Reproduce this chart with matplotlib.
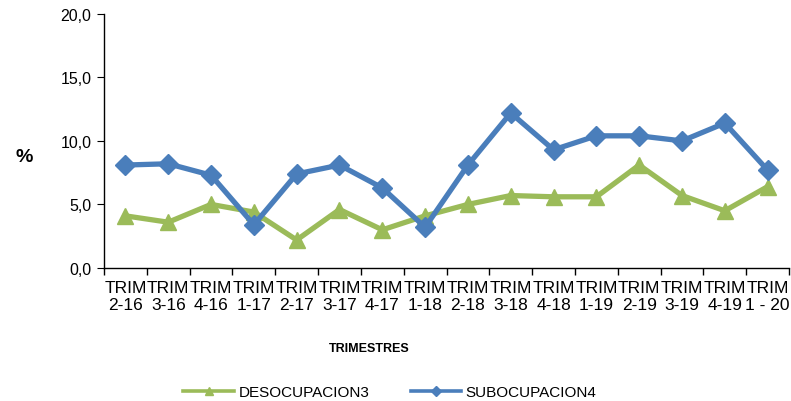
import numpy as np
import matplotlib
matplotlib.use('Agg')
import matplotlib.pyplot as plt
from matplotlib.ticker import FixedLocator, FuncFormatter

plt.rcParams['font.family'] = ['Liberation Sans', 'DejaVu Sans']

trimestres = ['TRIM\n2-16', 'TRIM\n3-16', 'TRIM\n4-16', 'TRIM\n1-17', 'TRIM\n2-17',
              'TRIM\n3-17', 'TRIM\n4-17', 'TRIM\n1-18', 'TRIM\n2-18', 'TRIM\n3-18',
              'TRIM\n4-18', 'TRIM\n1-19', 'TRIM\n2-19', 'TRIM\n3-19', 'TRIM\n4-19',
              'TRIM\n1 - 20']
desocupacion = [4.1, 3.6, 5.0, 4.4, 2.2, 4.6, 3.0, 4.1, 5.0, 5.7, 5.6, 5.6, 8.1, 5.7, 4.5, 6.4]
subocupacion = [8.1, 8.2, 7.3, 3.4, 7.4, 8.1, 6.3, 3.2, 8.1, 12.2, 9.3, 10.4, 10.4, 10.0, 11.4, 7.7]

green = '#9BBB59'
blue = '#4A7EBB'

fig = plt.figure(figsize=(7.91, 4.02), dpi=100)
ax = fig.add_axes([0.1315, 0.331, 0.866, 0.632])

x = np.arange(len(trimestres))
ax.plot(x, desocupacion, color=green, lw=3.8, marker='^', markersize=12,
        label='DESOCUPACION3')
ax.plot(x, subocupacion, color=blue, lw=3.8, marker='D', markersize=10,
        label='SUBOCUPACION4')

ax.set_xlim(-0.5, len(trimestres) - 0.5)
ax.set_ylim(0, 20)
ax.set_yticks([0, 5, 10, 15, 20])
ax.yaxis.set_major_formatter(FuncFormatter(lambda v, p: f'{v:.1f}'.replace('.', ',')))

ax.set_xticks(x)
ax.set_xticklabels(trimestres, fontsize=12.5, linespacing=1.1)
ax.tick_params(axis='x', which='major', length=0, pad=9)
ax.xaxis.set_minor_locator(FixedLocator(np.arange(-0.5, len(trimestres), 1.0)))
ax.tick_params(axis='x', which='minor', length=5, direction='out', width=1)
ax.tick_params(axis='y', length=5, direction='out', labelsize=11.5, pad=4)

for s in ['top', 'right']:
    ax.spines[s].set_visible(False)
for s in ['left', 'bottom']:
    ax.spines[s].set_linewidth(1)

fig.text(0.031, 0.607, '%', fontsize=14, fontweight='bold', ha='center', va='center')
fig.text(0.467, 0.132, 'TRIMESTRES', fontsize=9, fontweight='bold', ha='center', va='center')

leg = fig.legend(loc='center', bbox_to_anchor=(0.493, 0.022), ncol=2, frameon=False,
                 fontsize=11, handlelength=3.3, columnspacing=2.7, markerscale=0.5,
                 handletextpad=0.3)
for h in leg.legend_handles:
    h.set_linewidth(2.6)

fig.savefig('out.png', dpi=100)
